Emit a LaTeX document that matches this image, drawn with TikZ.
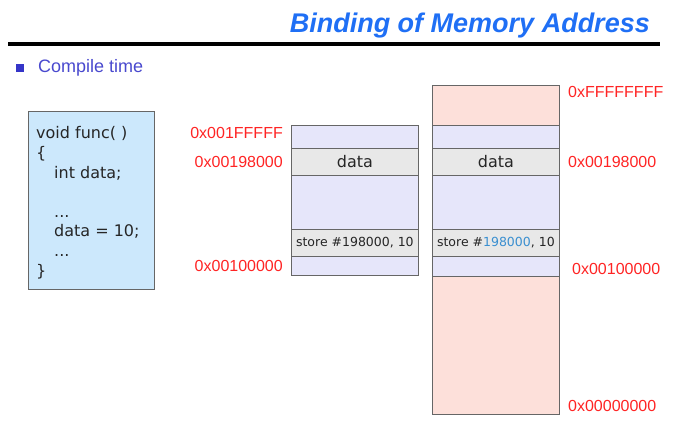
\documentclass[tikz,border=0pt]{standalone}
\usepackage{fontspec}
\setmainfont{Liberation Sans}
\newfontfamily\codefont{DejaVu Sans}
\usetikzlibrary{positioning}
\definecolor{titleblue}{HTML}{1F6FF5}
\definecolor{bulletblue}{HTML}{3535C8}
\definecolor{addrred}{HTML}{FF2424}
\definecolor{lav}{HTML}{E6E6FA}
\definecolor{cellgray}{HTML}{E8E8E8}
\definecolor{pinkmem}{HTML}{FDE0DA}
\definecolor{codebg}{HTML}{CCE8FC}
\definecolor{numblue}{HTML}{3A8FD0}
\tikzset{
  cell/.style={draw=black!60, line width=0.8pt, anchor=north west, minimum width=127, inner sep=0pt},
  addr/.style={text=addrred, font=\fontsize{16}{18}\selectfont, inner sep=0pt},
  codeline/.style={anchor=base west, font=\codefont\fontsize{16}{18}\selectfont, text=black!85, inner sep=0pt},
  celltext/.style={font=\codefont\fontsize{16}{18}\selectfont, text=black!85},
  storetext/.style={font=\codefont\fontsize{12.5}{14}\selectfont, text=black!85}
}
\begin{document}
\begin{tikzpicture}[x=1pt, y=-1pt]
\useasboundingbox (0,0) rectangle (678,423);

\node[anchor=base east, text=titleblue, font=\fontsize{27}{30}\selectfont\bfseries\itshape, inner sep=0pt] (title) at (650,32) {Binding of Memory Address};
\draw[line width=3.5pt] (8,44) -- (660,44);

\fill[bulletblue] (16,64) rectangle (24,72);
\node[anchor=west, text=bulletblue!90!white, font=\fontsize{18}{20}\selectfont, inner sep=0pt] (ct) at (38,68) {Compile time};

% source code
\draw[draw=black!60, line width=0.8pt, fill=codebg] (28,111) rectangle (154,289);
\node[codeline] (c1) at (36,138) {void func( )};
\node[codeline] (c2) at (36,158) {\{};
\node[codeline] (c3) at (54,178) {int data;};
\node[codeline] (c4) at (54,217) {...};
\node[codeline] (c5) at (54,236) {data = 10;};
\node[codeline] (c6) at (54,256) {...};
\node[codeline] (c7) at (36,276) {\}};

% logical memory
\node[cell, fill=lav, minimum height=23] (m1) at (291,125) {};
\node[cell, fill=cellgray, minimum height=27] (m2) at (291,148) {};
\node[cell, fill=lav, minimum height=54] (m3) at (291,175) {};
\node[cell, fill=cellgray, minimum height=27] (m4) at (291,229) {};
\node[cell, fill=lav, minimum height=19] (m5) at (291,256) {};
\node[celltext] at (m2.center) {data};
\node[storetext] at (m4.center) {store \#198000, 10};

\node[addr, anchor=east] (a1) at (283,133) {0x001FFFFF};
\node[addr, anchor=east] (a2) at (283,162) {0x00198000};
\node[addr, anchor=east] (a3) at (283,266) {0x00100000};

% physical memory
\node[cell, fill=pinkmem, minimum height=40] (p0) at (432,85) {};
\node[cell, fill=lav, minimum height=23] (p1) at (432,125) {};
\node[cell, fill=cellgray, minimum height=27] (p2) at (432,148) {};
\node[cell, fill=lav, minimum height=54] (p3) at (432,175) {};
\node[cell, fill=cellgray, minimum height=27] (p4) at (432,229) {};
\node[cell, fill=lav, minimum height=20] (p5) at (432,256) {};
\node[cell, fill=pinkmem, minimum height=138] (p6) at (432,276) {};
\node[celltext] at (p2.center) {data};
\node[storetext] at (p4.center) {store \#\textcolor{numblue}{198000}, 10};

\node[addr, anchor=west] (b1) at (568,92) {0xFFFFFFFF};
\node[addr, anchor=west] (b2) at (568,162) {0x00198000};
\node[addr, anchor=west] (b3) at (572,269) {0x00100000};
\node[addr, anchor=west] (b4) at (568,406) {0x00000000};
\end{tikzpicture}
\end{document}
